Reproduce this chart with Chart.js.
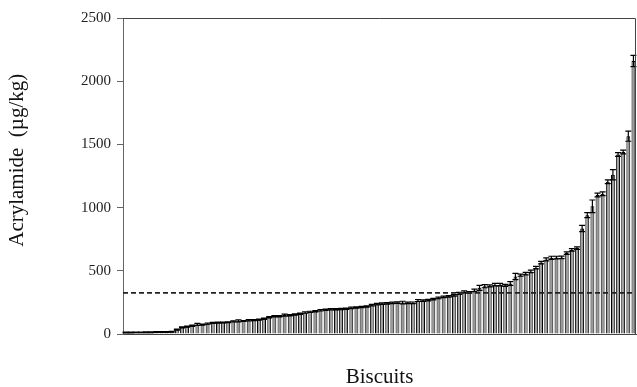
<!DOCTYPE html>
<html>
<head>
<meta charset="utf-8">
<script src="https://cdn.jsdelivr.net/npm/chart.js@4"></script>
<style>
  body { margin: 0; background: #fff; }
  canvas { display: block; }
</style>
</head>
<body>
<canvas id="grafico" width="637" height="387"></canvas>
<script>
// acrilamida por muestra de galleta (ug/kg), ordenadas de menor a mayor
const acrilamida = [
  12, 12, 13, 13, 14, 14, 15, 15, 16, 18,
  35, 52, 58, 65, 76, 74, 82, 88, 90, 91,
  93, 100, 104, 103, 108, 110, 113, 120, 132, 140,
  141, 150, 148, 155, 160, 170, 175, 180, 188, 192,
  195, 196, 198, 200, 206, 210, 214, 218, 228, 236,
  240, 243, 246, 248, 249, 246, 247, 265, 264, 268,
  276, 285, 294, 298, 305, 322, 333, 330, 345, 365,
  378, 381, 390, 390, 385, 400, 455, 465, 478, 495,
  525, 565, 590, 603, 605, 606, 640, 665, 680, 835,
  940, 1010, 1100, 1110, 1205, 1260, 1420, 1440, 1565, 2160
];
// desviacion (barras de error)
const desviacion = [
  3, 3, 3, 3, 3, 3, 3, 3, 3, 3,
  4, 4, 4, 5, 8, 4, 5, 4, 4, 4,
  4, 5, 8, 4, 5, 4, 4, 5, 5, 5,
  5, 8, 5, 5, 5, 6, 5, 5, 6, 5,
  5, 5, 5, 5, 6, 5, 5, 5, 6, 6,
  6, 6, 6, 6, 10, 6, 6, 8, 6, 6,
  6, 6, 6, 6, 6, 8, 8, 6, 10, 20,
  12, 8, 10, 10, 8, 15, 25, 8, 10, 10,
  10, 10, 12, 12, 10, 10, 10, 10, 10, 25,
  20, 50, 15, 15, 15, 40, 15, 15, 40, 45
];
const muestras = acrilamida.map((v, i) => 'M' + (i + 1));
const limite = 325; // valor de referencia (linea discontinua)
const ticksY = [0, 500, 1000, 1500, 2000, 2500];

// barras de error
const barrasError = {
  id: 'barrasError',
  afterDatasetsDraw(chart) {
    const ctx = chart.ctx;
    const meta = chart.getDatasetMeta(0);
    const y = chart.scales.y;
    ctx.save();
    ctx.strokeStyle = '#000';
    ctx.lineWidth = 1.2;
    meta.data.forEach((bar, i) => {
      const v = acrilamida[i], e = desviacion[i];
      const yTop = y.getPixelForValue(v + e);
      const yBot = y.getPixelForValue(v - e);
      const x = bar.x;
      ctx.beginPath();
      ctx.moveTo(x, yTop); ctx.lineTo(x, yBot);
      ctx.moveTo(x - 3, yTop); ctx.lineTo(x + 3, yTop);
      ctx.moveTo(x - 3, yBot); ctx.lineTo(x + 3, yBot);
      ctx.stroke();
    });
    ctx.restore();
  }
};

// linea discontinua + marco
const lineaLimite = {
  id: 'lineaLimite',
  afterDatasetsDraw(chart) {
    const ctx = chart.ctx;
    const a = chart.chartArea;
    const yl = chart.scales.y.getPixelForValue(limite);
    ctx.save();
    ctx.strokeStyle = '#222';
    ctx.lineWidth = 1.6;
    ctx.setLineDash([5, 3]);
    ctx.beginPath();
    ctx.moveTo(a.left, yl);
    ctx.lineTo(a.right, yl);
    ctx.stroke();
    ctx.setLineDash([]);
    ctx.strokeStyle = '#444';
    ctx.lineWidth = 1;
    ctx.beginPath();
    ctx.moveTo(a.left, a.top + 0.5);
    ctx.lineTo(a.right - 0.5, a.top + 0.5);
    ctx.lineTo(a.right - 0.5, a.bottom);
    ctx.stroke();
    ctx.restore();
  }
};

const ctx = document.getElementById('grafico').getContext('2d');
new Chart(ctx, {
  type: 'bar',
  data: {
    labels: muestras,
    datasets: [{
      label: 'Acrylamide',
      data: acrilamida,
      backgroundColor: '#9a9a9a',
      borderColor: '#000',
      borderWidth: 1,
      barPercentage: 0.75,
      categoryPercentage: 1
    }]
  },
  options: {
    responsive: false,
    animation: false,
    layout: { padding: { top: 18, right: 1, left: 0, bottom: 0 } },
    plugins: {
      legend: { display: false },
      tooltip: { enabled: false }
    },
    scales: {
      x: {
        grid: { display: false },
        border: { display: true, color: '#444', width: 1 },
        ticks: { display: false },
        title: {
          display: true,
          text: 'Biscuits',
          color: '#111',
          font: { family: 'Liberation Serif', size: 21, lineHeight: 0.9 },
          padding: 0
        },
        afterFit: s => { s.height = 53; }
      },
      y: {
        min: 0,
        max: 2500,
        afterBuildTicks: s => { s.ticks = ticksY.map(v => ({ value: v })); },
        grid: { display: true, drawOnChartArea: false, tickLength: 6, color: '#666' },
        border: { display: true, color: '#666', width: 1 },
        ticks: {
          color: '#222',
          padding: 6,
          font: { family: 'Liberation Serif', size: 15 },
          callback: v => String(v)
        },
        title: {
          display: true,
          text: '      Acrylamide  (µg/kg)',
          color: '#111',
          font: { family: 'Liberation Serif', size: 21 },
          padding: { top: 5, bottom: 0 }
        },
        afterFit: s => { s.width = 123; }
      }
    }
  },
  plugins: [barrasError, lineaLimite]
});
</script>
</body>
</html>
